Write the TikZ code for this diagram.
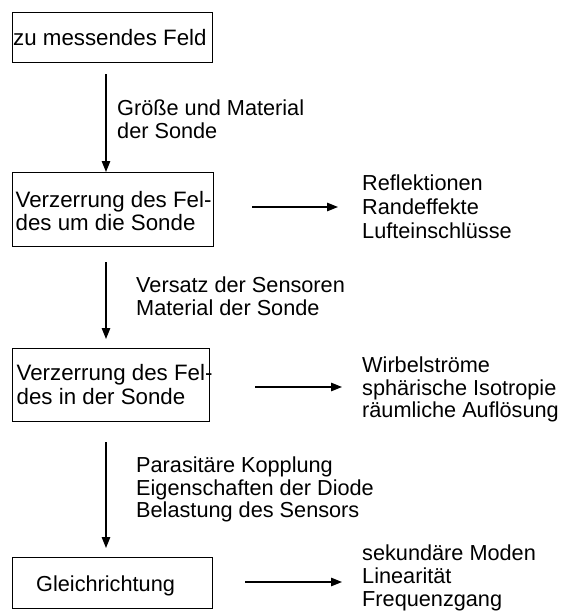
\documentclass[tikz,border=0pt]{standalone}
\usepackage{fontspec}
\setmainfont{Liberation Sans}
\usetikzlibrary{arrows.meta}
\begin{document}
\begin{tikzpicture}[x=1pt,y=-1pt,
  box/.style={draw, line width=1.4pt, inner sep=0pt, anchor=north west},
  txt/.style={inner sep=0pt, anchor=base west, font=\fontsize{21.7pt}{23pt}\selectfont},
  btxt/.style={txt, font=\fontsize{22.3pt}{23pt}\selectfont},
  arr/.style={line width=1.3pt, -{Triangle[length=11pt,width=8.5pt]}}]
\useasboundingbox (0,0) rectangle (561,613);
% boxes
\node[box, minimum width=200pt, minimum height=50pt] (b1) at (12,12) {};
\node[box, minimum width=201pt, minimum height=74pt] (b2) at (12,172) {};
\node[box, minimum width=197pt, minimum height=73pt] (b3) at (12,348) {};
\node[box, minimum width=200pt, minimum height=51pt] (b4) at (12,557) {};
% box texts
\node[btxt] (t1) at (13,45) {zu messendes Feld};
\node[btxt] (t2a) at (15.5,207) {Verzerrung des Fel-};
\node[btxt] (t2b) at (15.5,230) {des um die Sonde};
\node[btxt] (t3a) at (16.5,380) {Verzerrung des Fel-};
\node[btxt] (t3b) at (16.5,404) {des in der Sonde};
\node[txt] (t4) at (36,591) {Gleichrichtung};
% vertical arrows
\coordinate (v1) at (106,74);
\coordinate (v2) at (106,262);
\coordinate (v3) at (106,442);
\coordinate (e2) at (106,339);
\coordinate (e3) at (106,548);
\draw[arr] (v1) -- (v1 |- b2.north);
\draw[arr] (v2) -- (e2);
\draw[arr] (v3) -- (e3);
% vertical labels
\node[txt] (l1a) at (117,115) {Größe und Material};
\node[txt] (l1b) at (117,138) {der Sonde};
\node[txt] (l2a) at (136,292) {Versatz der Sensoren};
\node[txt] (l2b) at (136,315) {Material der Sonde};
\node[txt] (l3a) at (136,472) {Parasitäre Kopplung};
\node[txt] (l3b) at (136,495) {Eigenschaften der Diode};
\node[txt] (l3c) at (136,517) {Belastung des Sensors};
% horizontal arrows
\coordinate (h1s) at (252,207);
\coordinate (h1e) at (338,207);
\coordinate (h2s) at (255,387);
\coordinate (h2e) at (342,387);
\coordinate (h3s) at (245,582);
\coordinate (h3e) at (342,582);
\draw[arr] (h1s) -- (h1e);
\draw[arr] (h2s) -- (h2e);
\draw[arr] (h3s) -- (h3e);
% right labels
\node[txt] (r1a) at (362,190) {Reflektionen};
\node[txt] (r1b) at (362,214) {Randeffekte};
\node[txt] (r1c) at (362,238) {Lufteinschlüsse};
\node[txt] (r2a) at (362,372) {Wirbelströme};
\node[txt] (r2b) at (362,395) {sphärische Isotropie};
\node[txt] (r2c) at (362,417) {räumliche Auflösung};
\node[txt] (r3a) at (362,560) {sekundäre Moden};
\node[txt] (r3b) at (362,583) {Linearität};
\node[txt] (r3c) at (362,606) {Frequenzgang};
\end{tikzpicture}
\end{document}
